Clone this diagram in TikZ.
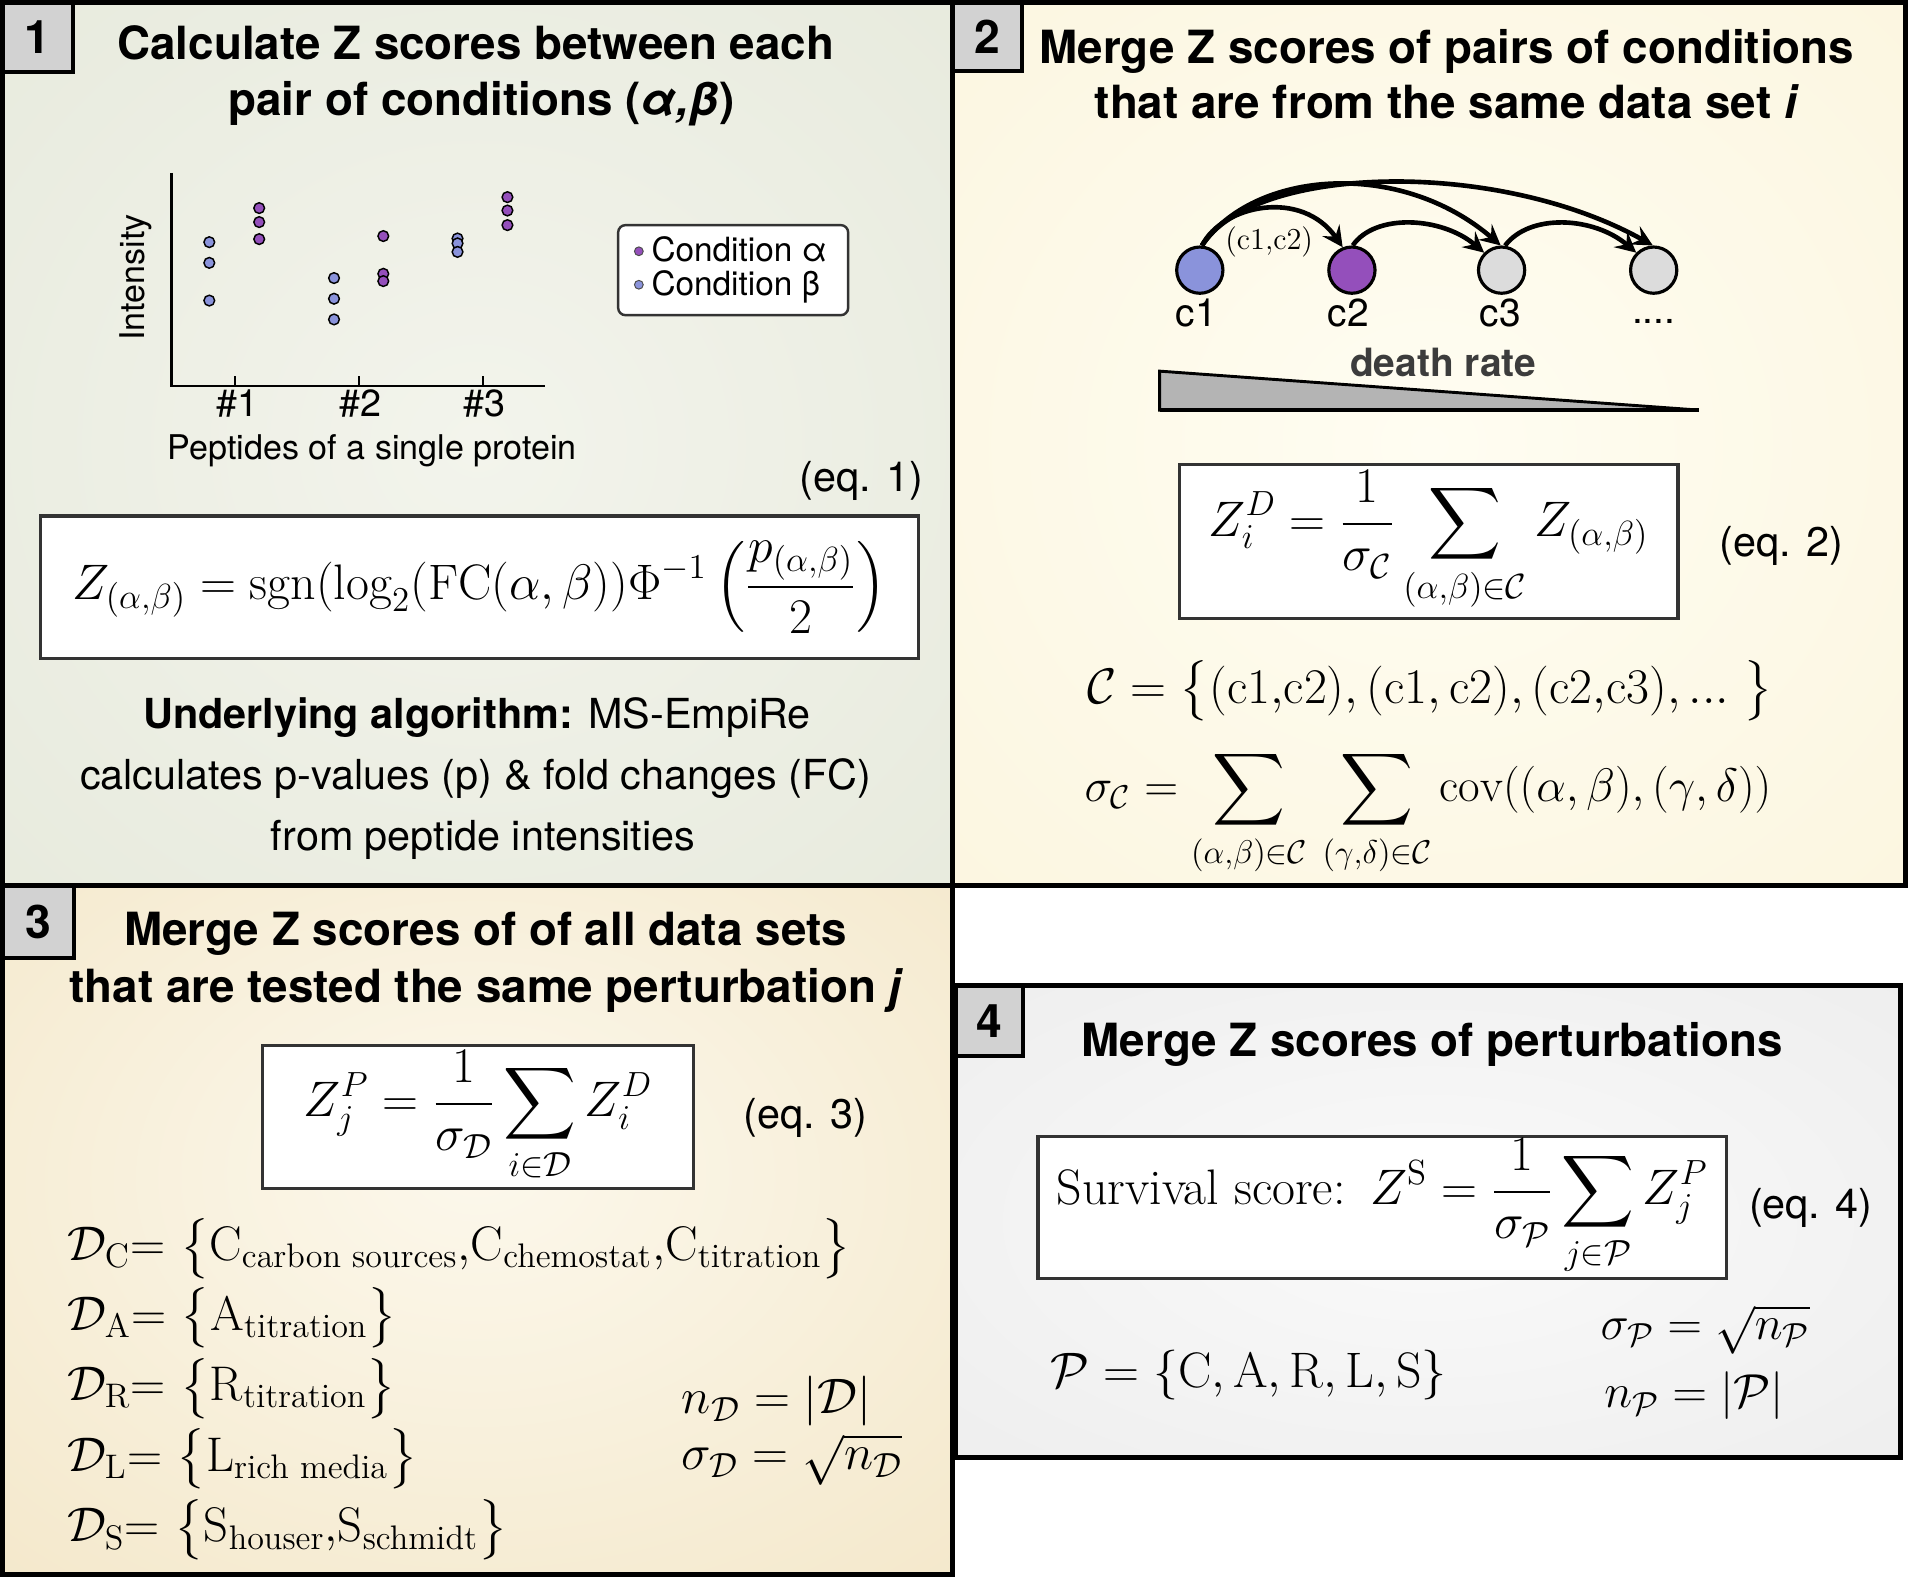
\RequirePackage{fix-cm}
\documentclass[tikz,border=0pt]{standalone}
\usepackage{amsmath}
\usepackage{fontspec}
\newfontfamily\hv{TeX Gyre Heros}
\usetikzlibrary{arrows.meta}
\newcommand\fsz[1]{\fontsize{#1}{#1}\selectfont}

\definecolor{pAin}{HTML}{F3F4EC}
\definecolor{pAout}{HTML}{DCE1CF}
\definecolor{pBin}{HTML}{FFFDF2}
\definecolor{pBout}{HTML}{F8EFCE}
\definecolor{pCin}{HTML}{FCF8EC}
\definecolor{pCout}{HTML}{EDDAAE}
\definecolor{pDin}{HTML}{FAFAFA}
\definecolor{pDout}{HTML}{E2E2E2}
\definecolor{numgray}{HTML}{D2D2D2}
\definecolor{eqborder}{HTML}{333333}
\definecolor{ptblue}{HTML}{8A93DB}
\definecolor{ptpurp}{HTML}{944FBB}
\definecolor{cgray}{HTML}{DCDCDC}
\definecolor{wedgegray}{HTML}{B4B4B4}
\definecolor{deathgray}{HTML}{3C3C3C}

\pgfdeclareradialshading{glowA}{\pgfpoint{0bp}{0bp}}{color(0bp)=(pAin); color(72bp)=(pAout)}
\pgfdeclareradialshading{glowB}{\pgfpoint{0bp}{0bp}}{color(0bp)=(pBin); color(72bp)=(pBout)}
\pgfdeclareradialshading{glowC}{\pgfpoint{0bp}{5bp}}{color(0bp)=(pCin); color(72bp)=(pCout)}
\pgfdeclareradialshading{glowD}{\pgfpoint{0bp}{0bp}}{color(0bp)=(pDin); color(72bp)=(pDout)}

\tikzset{
  panel/.style={draw=black, line width=2pt},
  numbox/.style={draw=black, line width=1.6pt, fill=numgray, inner sep=0pt, font=\hv\bfseries\fsz{19}},
  eqbox/.style={draw=eqborder, line width=1.3pt, fill=white, inner sep=0pt, font=\fsz{20.5}},
  ttl/.style={font=\hv\bfseries\fsz{18.8}, anchor=base, inner sep=0pt},
  eqlab/.style={font=\hv\fsz{17}, anchor=base west, inner sep=0pt},
  body/.style={font=\hv\fsz{17}, anchor=base, inner sep=0pt},
  mth/.style={font=\fsz{20.5}, anchor=base west, inner sep=0pt},
  dset/.style={font=\fsz{20}, anchor=base west, inner sep=0pt},
  plab/.style={font=\hv\fsz{14}, inner sep=0pt},
  legt/.style={font=\hv\fsz{13.7}, anchor=base west, inner sep=0pt},
  cnode/.style={circle, draw=black, line width=1.3pt, minimum size=19pt, inner sep=0pt},
  clab/.style={font=\hv\fsz{16}, anchor=base, inner sep=0pt},
  arr/.style={line width=1.9pt, -{Stealth[length=8.5pt,width=8.5pt,inset=3.2pt]}},
  pt/.style={draw=black, line width=0.6pt},
  axis/.style={line width=1pt, draw=black},
}

\begin{document}
\begin{tikzpicture}[x=0.5pt,y=-0.5pt]
\useasboundingbox (0,0) rectangle (1568,1296);
\fill[white] (0,0) rectangle (1568,1296);

% panel backgrounds
\shade[shading=glowA] (2,2) rectangle (783,728);
\shade[shading=glowB] (783,2) rectangle (1566,728);
\shade[shading=glowC] (2,728) rectangle (783,1294);
\shade[shading=glowD] (785,810) rectangle (1562,1198);

% number boxes
\node[numbox, minimum width=29pt, minimum height=28.5pt] (n1) at (31,30.5) {1};
\node[numbox, minimum width=28.5pt, minimum height=28pt] (n2) at (811.5,30) {2};
\node[numbox, minimum width=29.5pt, minimum height=29.5pt] (n3) at (31.5,757.5) {3};
\node[numbox, minimum width=28pt, minimum height=29pt] (n4) at (813,839) {4};

% panel borders
\draw[panel] (2,2) rectangle (783,728);
\draw[panel] (783,2) rectangle (1566,728);
\draw[panel] (2,728) rectangle (783,1294);
\draw[panel] (785,810) rectangle (1562,1198);

% ---------------- Panel 1 ----------------
\node[ttl] (t1a) at (391,49) {Calculate Z scores between each};
\node[ttl] (t1b) at (396,95) {pair of conditions (\textit{α,β})};

% plot
\draw[axis] (141,142) -- (141,317) -- (448,317);
\draw[axis] (193,317) -- (193,309);
\draw[axis] (295,317) -- (295,309);
\draw[axis] (397,317) -- (397,309);
\node[plab, anchor=base, font=\hv\fsz{15.5}] (x1) at (195,342) {\#1};
\node[plab, anchor=base, font=\hv\fsz{15.5}] (x2) at (296,342) {\#2};
\node[plab, anchor=base, font=\hv\fsz{15.5}] (x3) at (398,342) {\#3};
\node[plab, anchor=base] (xl) at (306,378) {Peptides of a single protein};
\node[plab, rotate=90] (yl) at (112,228) {Intensity};

\foreach \y in {199,216,247} \filldraw[pt, fill=ptblue] (172,\y) circle[radius=2.2pt];
\foreach \y in {171,182.5,196.5} \filldraw[pt, fill=ptpurp] (213,\y) circle[radius=2.2pt];
\foreach \y in {228.5,245.5,262.5} \filldraw[pt, fill=ptblue] (274.5,\y) circle[radius=2.2pt];
\foreach \y in {194,225,231} \filldraw[pt, fill=ptpurp] (315,\y) circle[radius=2.2pt];
\foreach \y in {196,200,207} \filldraw[pt, fill=ptblue] (376,\y) circle[radius=2.2pt];
\foreach \y in {162,173,185} \filldraw[pt, fill=ptpurp] (417,\y) circle[radius=2.2pt];

% legend
\node[draw=eqborder, line width=1pt, rounded corners=3pt, fill=white, minimum width=94.5pt, minimum height=37pt, inner sep=0pt] (leg) at (602.5,222) {};
\filldraw[draw=black!70, line width=0.4pt, fill=ptpurp] (525,206.5) circle[radius=1.8pt];
\filldraw[draw=black!70, line width=0.4pt, fill=ptblue] (525,234) circle[radius=1.8pt];
\node[legt] (la) at (535,214.5) {Condition α};
\node[legt] (lb) at (535,243) {Condition β};

\node[font=\hv\fsz{17}, anchor=base east, inner sep=0pt] (e1l) at (759,404) {(eq. 1)};
\node[eqbox, minimum width=361pt, minimum height=58.5pt] (eq1) at (394,482.5)
  {$\displaystyle Z_{(\alpha,\beta)} = \mathrm{sgn}(\log_2(\mathrm{FC}(\alpha,\beta))\Phi^{-1}\left(\frac{p_{(\alpha,\beta)}}{2}\right)$};

\node[body] (u1) at (392,599) {\textbf{Underlying algorithm:} MS-EmpiRe};
\node[body] (u2) at (391,649) {calculates p-values (p) \& fold changes (FC)};
\node[body] (u3) at (397,699) {from peptide intensities};

% ---------------- Panel 2 ----------------
\node[ttl] (t2a) at (1189,52) {Merge Z scores of pairs of conditions};
\node[ttl] (t2b) at (1189,97) {that are from the same data set \textit{i}};

\node[cnode, fill=ptblue] (c1) at (986,222) {};
\node[cnode, fill=ptpurp] (c2) at (1111,222) {};
\node[cnode, fill=cgray] (c3) at (1234,222) {};
\node[cnode, fill=cgray] (c4) at (1359,222) {};
\node[clab] (c1l) at (983,268) {c1};
\node[clab] (c2l) at (1108,268) {c2};
\node[clab] (c3l) at (1233,268) {c3};
\node[clab] (c4l) at (1359,266) {....};

\draw[arr] (c1.85) .. controls (1005,168) and (1070,155) .. (c2.112);
\draw[arr] (c1.85) .. controls (1030,140) and (1150,130) .. (c3.92);
\draw[arr] (c1.85) .. controls (1030,135) and (1230,130) .. (c4.92);
\draw[arr] (c2.88) .. controls (1130,175) and (1185,178) .. (c3.135);
\draw[arr] (c3.82) .. controls (1257,175) and (1310,178) .. (c4.135);
\node[font=\fsz{12.5}, inner sep=0pt] (lab12) at (1043,199) {(c1,c2)};

\node[font=\hv\bfseries\fsz{16}, text=deathgray, anchor=base, inner sep=0pt] (dr) at (1186,309) {death rate};
\filldraw[fill=wedgegray, draw=black, line width=1.2pt] (953,305) -- (1396,337) -- (953,337) -- cycle;
\draw[line width=1.6pt] (953,337) -- (1396,337);

\node[eqbox, minimum width=205pt, minimum height=63pt] (eq2) at (1174,445)
  {$\displaystyle Z_i^D = \frac{1}{\sigma_{\mathcal C}} \sum_{(\alpha,\beta)\in\mathcal C} Z_{(\alpha,\beta)}$};
\node[eqlab] (e2l) at (1413,457) {(eq. 2)};

\node[mth] (cset) at (893,578) {$\mathcal C = \bigl\{(\mathrm{c1{,}c2}), (\mathrm{c1, c2}), (\mathrm{c2{,}c3}), ...\;\bigr\}$};
\node[mth, font=\fsz{19.3}] (sigc) at (891,659) {$\displaystyle \sigma_{\mathcal C} = \sum_{(\alpha,\beta)\in\mathcal C}\,\sum_{(\gamma,\delta)\in\mathcal C} \mathrm{cov}((\alpha,\beta),(\gamma,\delta))$};

% ---------------- Panel 3 ----------------
\node[ttl] (t3a) at (399,777) {Merge Z scores of of all data sets};
\node[ttl] (t3b) at (400,824) {that are tested the same perturbation \textit{j}};

\node[eqbox, minimum width=177pt, minimum height=59pt] (eq3) at (393,918)
  {$\displaystyle Z_j^P = \frac{1}{\sigma_{\mathcal D}} \sum_{i\in\mathcal D} Z_i^D$};
\node[eqlab] (e3l) at (611,927) {(eq. 3)};

\node[dset] (dc) at (55,1036) {$\mathcal D_{\mathrm C}{=}\ \bigl\{\mathrm C_{\text{carbon sources}}{,}\mathrm C_{\text{chemostat}}{,}\mathrm C_{\text{titration}}\bigr\}$};
\node[dset] (da) at (55,1093) {$\mathcal D_{\mathrm A}{=}\ \bigl\{\mathrm A_{\text{titration}}\bigr\}$};
\node[dset] (dR) at (55,1151) {$\mathcal D_{\mathrm R}{=}\ \bigl\{\mathrm R_{\text{titration}}\bigr\}$};
\node[dset] (dl) at (55,1209) {$\mathcal D_{\mathrm L}{=}\ \bigl\{\mathrm L_{\text{rich media}}\bigr\}$};
\node[dset] (ds) at (55,1267) {$\mathcal D_{\mathrm S}{=}\ \bigl\{\mathrm S_{\text{houser}}{,}\mathrm S_{\text{schmidt}}\bigr\}$};

\node[mth] (nd) at (560,1162) {$n_{\mathcal D} = |\mathcal D|$};
\node[mth] (sd) at (560,1208) {$\sigma_{\mathcal D} = \sqrt{n_{\mathcal D}}$};

% ---------------- Panel 4 ----------------
\node[ttl] (t4) at (1177,868) {Merge Z scores of perturbations};
\node[eqbox, minimum width=283pt, minimum height=58.5pt] (eq4) at (1136,992.5)
  {$\displaystyle \text{Survival score:}\enspace Z^{\mathrm S} = \frac{1}{\sigma_{\mathcal P}} \sum_{j\in\mathcal P} Z_j^P$};
\node[eqlab] (e4l) at (1437,1001) {(eq. 4)};

\node[mth] (pset) at (863,1140) {$\mathcal P = \{\mathrm C, \mathrm A, \mathrm R, \mathrm L, \mathrm S\}$};
\node[mth, font=\fsz{19.6}] (sp) at (1315,1101) {$\sigma_{\mathcal P} = \sqrt{n_{\mathcal P}}$};
\node[mth, font=\fsz{19.6}] (np) at (1318,1157) {$n_{\mathcal P} = |\mathcal P|$};
\end{tikzpicture}
\end{document}
